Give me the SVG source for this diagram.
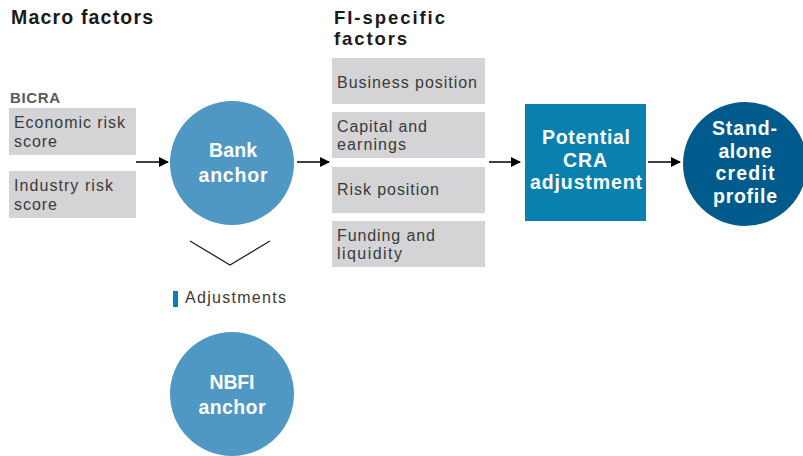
<svg xmlns="http://www.w3.org/2000/svg" width="803" height="456" viewBox="0 0 803 456">
<defs>
<marker id="ah" markerWidth="10" markerHeight="10" refX="9" refY="5" orient="auto" markerUnits="userSpaceOnUse">
<path d="M0,0 L10,5 L0,10 Z" fill="#000"/>
</marker>
</defs>
<style>
.h{font-family:"Liberation Sans",Arial,sans-serif;font-weight:700;font-size:19.5px;fill:#1a1a1a}
.h2{font-family:"Liberation Sans",Arial,sans-serif;font-weight:700;font-size:18.5px;fill:#1a1a1a}
.box{fill:#d4d4d6}
.bt{font-family:"Liberation Sans",Arial,sans-serif;font-weight:400;font-size:16px;fill:#3a3a3a}
.wt{font-family:"Liberation Sans",Arial,sans-serif;font-weight:700;font-size:19.5px;fill:#fff;text-anchor:middle}
.con{stroke:#000;stroke-width:1.5;fill:none}
</style>
<rect width="803" height="456" fill="#fff"/>
<text class="h" x="11" y="24" textLength="142">Macro factors</text>
<text class="h2" x="334" y="24" textLength="111">FI-specific</text>
<text class="h2" x="334" y="45" textLength="73">factors</text>
<text x="10" y="103" textLength="50" style="font-family:'Liberation Sans',Arial,sans-serif;font-weight:700;font-size:15px;fill:#5a5a5a">BICRA</text>
<g id="economic">
<rect class="box" x="9" y="108" width="127" height="47"/>
<text class="bt" x="14" y="128" textLength="111">Economic risk</text>
<text class="bt" x="14" y="147" textLength="43">score</text>
</g>
<g id="industry">
<rect class="box" x="9" y="171" width="127" height="47"/>
<text class="bt" x="14" y="191" textLength="99">Industry risk</text>
<text class="bt" x="14" y="210" textLength="43">score</text>
</g>
<g id="bank-anchor">
<circle cx="232" cy="163" r="62" fill="#4e98c3"/>
<text class="wt" x="233" y="157" textLength="48">Bank</text>
<text class="wt" x="233" y="182" textLength="69">anchor</text>
</g>
<g id="adjustments">
<polyline points="190,241 230,265 270,241" fill="none" stroke="#222" stroke-width="1.3"/>
<rect x="173" y="291" width="5" height="16" fill="#0a7fb0"/>
<text class="bt" x="185" y="303" textLength="101">Adjustments</text>
</g>
<g id="nbfi-anchor">
<circle cx="232" cy="394" r="62" fill="#4e98c3"/>
<text class="wt" x="232" y="389" textLength="45">NBFI</text>
<text class="wt" x="232" y="414" textLength="67">anchor</text>
</g>
<g id="business">
<rect class="box" x="332" y="58" width="153" height="46"/>
<text class="bt" x="337" y="88" textLength="140">Business position</text>
</g>
<g id="capital">
<rect class="box" x="332" y="112" width="153" height="46"/>
<text class="bt" x="337" y="132" textLength="90">Capital and</text>
<text class="bt" x="337" y="150" textLength="69">earnings</text>
</g>
<g id="risk">
<rect class="box" x="332" y="167" width="153" height="46"/>
<text class="bt" x="337" y="195" textLength="102">Risk position</text>
</g>
<g id="funding">
<rect class="box" x="332" y="221" width="153" height="46"/>
<text class="bt" x="337" y="241" textLength="98">Funding and</text>
<text class="bt" x="337" y="259" textLength="65">liquidity</text>
</g>
<g id="cra">
<rect x="525" y="104" width="121" height="117" fill="#0a80ae"/>
<text class="wt" x="586" y="144" textLength="88">Potential</text>
<text class="wt" x="585" y="167" textLength="44">CRA</text>
<text class="wt" x="586" y="189" textLength="112">adjustment</text>
</g>
<g id="sacp">
<circle cx="745" cy="164" r="62" fill="#005b8c"/>
<text class="wt" x="744.5" y="135" textLength="65">Stand-</text>
<text class="wt" x="745" y="158" textLength="53">alone</text>
<text class="wt" x="745" y="180" textLength="59">credit</text>
<text class="wt" x="745" y="203" textLength="64">profile</text>
</g>
<g id="connectors">
<line class="con" x1="136" y1="162" x2="168" y2="162" marker-end="url(#ah)"/>
<line class="con" x1="297" y1="162" x2="329" y2="162" marker-end="url(#ah)"/>
<line class="con" x1="489" y1="162" x2="520" y2="162" marker-end="url(#ah)"/>
<line class="con" x1="648" y1="162" x2="680" y2="162" marker-end="url(#ah)"/>
</g>
</svg>
